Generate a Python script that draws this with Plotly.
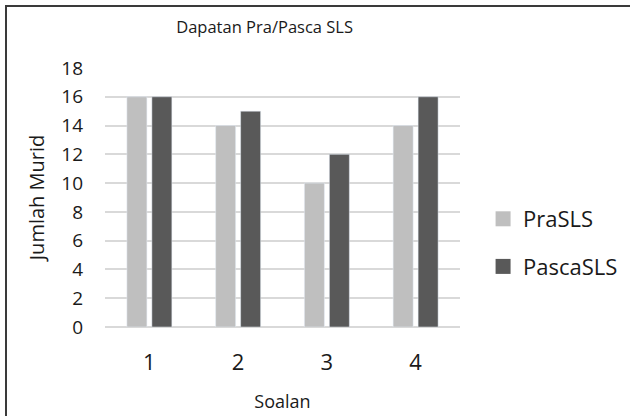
import plotly.graph_objects as go

categories = ["1", "2", "3", "4"]
pra_sls = [16, 14, 10, 14]
pasca_sls = [16, 15, 12, 16]
y_ticks = [0, 2, 4, 6, 8, 10, 12, 14, 16, 18]

LIGHT = "#BFBFBF"
DARK = "#595959"
FONT = "Open Sans"
TXT = "#1a1a1a"

fig = go.Figure()
fig.add_trace(go.Bar(x=categories, y=pra_sls, name="PraSLS", marker_color=LIGHT,
                     showlegend=False))
fig.add_trace(go.Bar(x=categories, y=pasca_sls, name="PascaSLS", marker_color=DARK,
                     showlegend=False))
# legend-only entries with square swatches
fig.add_trace(go.Scatter(x=[None], y=[None], mode="markers", name="PraSLS",
                         marker=dict(symbol="square", size=15, color=LIGHT),
                         legendgroup="a"))
fig.add_trace(go.Scatter(x=[None], y=[None], mode="markers", name="PascaSLS",
                         marker=dict(symbol="square", size=15, color=DARK),
                         legendgroup="b"))

fig.update_layout(
    width=630, height=416,
    margin=dict(l=105, r=170, t=68, b=89, autoexpand=False),
    paper_bgcolor="white", plot_bgcolor="white",
    barmode="group", bargap=0.437, bargroupgap=0.2,
    font=dict(family=FONT, color=TXT),
    title=dict(text="Dapatan Pra/Pasca SLS", x=0.42, xanchor="center",
               y=1 - 27 / 416, yanchor="middle",
               font=dict(size=16.5, family=FONT, color=TXT)),
    xaxis=dict(type="category", showgrid=False, showline=False, ticks="",
               automargin=False,
               tickfont=dict(size=22, color=TXT), ticklabelstandoff=20,
               title=dict(text="Soalan", font=dict(size=18, color=TXT), standoff=20)),
    yaxis=dict(range=[0, 18], tickvals=y_ticks, showgrid=True, gridcolor="#D9D9D9",
               gridwidth=1.5, zeroline=True, zerolinecolor="#D9D9D9", zerolinewidth=1.5,
               showline=False, ticks="", tickfont=dict(size=19, color=TXT),
               ticklabelstandoff=21, automargin=False,
               title=dict(text="Jumlah Murid", font=dict(size=20, color=TXT), standoff=11)),
    legend=dict(x=1.065, xanchor="left", y=(327 - 243) / 259, yanchor="middle",
                font=dict(size=22, color=TXT), traceorder="grouped",
                tracegroupgap=16, bgcolor="rgba(0,0,0,0)"),
    showlegend=True,
)

# outer chart border (left/top visible, rest outside canvas)
fig.add_shape(type="rect", xref="paper", yref="paper",
              x0=(6 - 105) / 355, x1=(640 - 105) / 355,
              y0=(327 - 430) / 259, y1=(327 - 6) / 259,
              line=dict(color="#3a3a3a", width=2), fillcolor="rgba(0,0,0,0)",
              layer="below")

fig.write_html("out.html", config={"displayModeBar": False},
               post_script="document.body.style.margin='0';document.body.style.padding='0';")
